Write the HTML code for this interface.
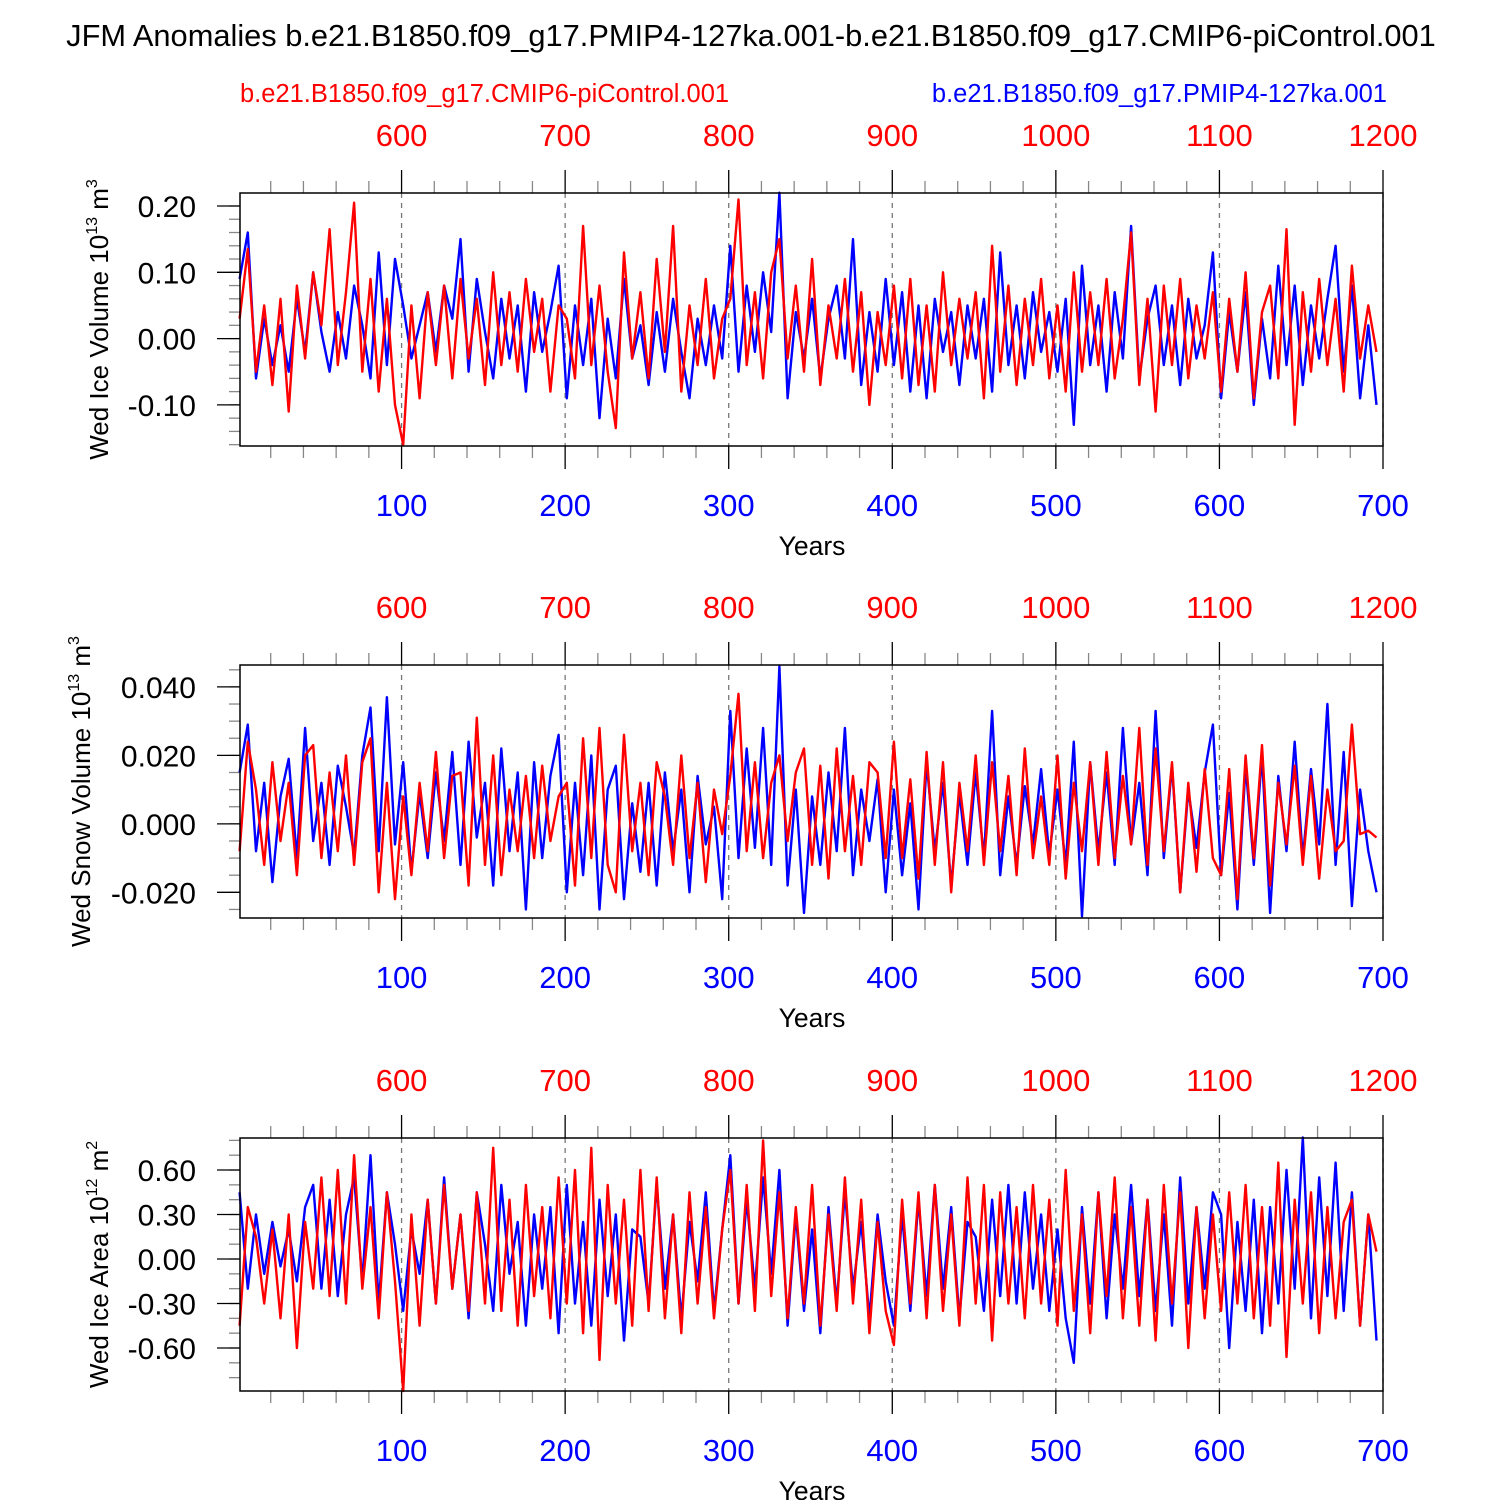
<!DOCTYPE html>
<html><head><meta charset="utf-8"><style>
html,body{margin:0;padding:0;background:#fff}
svg{display:block;font-family:"Liberation Sans",Arial,sans-serif}
</style></head><body>
<svg id="c" width="1500" height="1500" viewBox="0 0 1500 1500">
<text x="751" y="46" text-anchor="middle" font-size="30.8">JFM Anomalies b.e21.B1850.f09_g17.PMIP4-127ka.001-b.e21.B1850.f09_g17.CMIP6-piControl.001</text>
<text x="240" y="102" font-size="25.5" fill="#f00">b.e21.B1850.f09_g17.CMIP6-piControl.001</text>
<text x="1387" y="102" font-size="25.5" fill="#00f" text-anchor="end">b.e21.B1850.f09_g17.PMIP4-127ka.001</text>
</svg>
<script>
const blueIceVol=[.09,.16,-.06,.03,-.04,.02,-.05,.06,-.02,.10,.01,-.05,.04,-.03,.08,.02,-.06,.13,-.04,.12,.05,-.03,.02,.07,-.02,.08,.03,.15,-.05,.09,.01,-.06,.06,-.03,.05,-.08,.07,-.02,.04,.11,-.09,.05,-.04,.06,-.12,.03,-.06,.09,-.03,.02,-.07,.04,-.05,.06,-.02,-.09,.03,-.04,.05,-.03,.14,-.05,.08,-.02,.10,.01,.22,-.09,.04,-.03,.06,-.06,.03,.08,-.03,.15,-.07,.04,-.05,.09,-.04,.07,-.08,.05,-.09,.06,-.02,.04,-.07,.05,-.03,.06,-.08,.13,-.04,.05,-.06,.07,-.02,.04,-.05,.06,-.13,.11,-.04,.05,-.08,.07,-.03,.17,-.06,.03,.08,-.04,.05,-.07,.06,-.03,.02,.13,-.09,.04,-.05,.07,-.10,.03,-.06,.11,-.04,.08,-.07,.05,-.03,.06,.14,-.05,.08,-.09,.02,-.10];
const redIceVol=[.03,.135,-.05,.05,-.07,.06,-.11,.08,-.03,.10,.02,.165,-.04,.07,.205,-.05,.09,-.08,.06,-.10,-.16,.05,-.09,.07,-.04,.08,-.06,.09,-.03,.06,-.07,.10,-.04,.07,-.05,.09,-.02,.06,-.08,.05,.03,-.06,.17,-.04,.08,-.05,-.135,.13,-.03,.07,-.06,.12,-.02,.17,-.08,.05,-.04,.09,-.06,.03,.06,.21,-.04,.07,-.06,.10,.15,-.03,.08,-.05,.12,-.07,.05,-.03,.09,-.05,.07,-.10,.04,-.04,.08,-.06,.09,-.07,.05,-.08,.10,-.04,.06,-.03,.07,-.09,.14,-.05,.08,-.07,.06,-.04,.09,-.06,.05,-.08,.10,-.05,.07,-.04,.09,-.06,.03,.16,-.07,.06,-.11,.08,-.04,.09,-.06,.05,-.03,.07,-.08,.06,-.05,.10,-.09,.04,.08,-.06,.165,-.13,.07,-.05,.09,-.04,.06,-.08,.11,-.03,.05,-.02];
const blueSnow=[.015,.029,-.008,.012,-.017,.008,.019,-.01,.028,-.005,.012,-.012,.017,.005,-.009,.02,.034,-.008,.037,-.006,.018,-.014,.009,-.01,.015,-.005,.021,-.012,.024,-.004,.012,-.018,.022,-.008,.015,-.025,.018,-.01,.014,.026,-.02,.012,-.015,.02,-.025,.01,.017,-.022,.006,-.014,.012,-.018,.015,-.008,.01,-.02,.014,-.006,.005,-.022,.033,-.01,.022,-.007,.028,-.012,.046,-.018,.01,-.026,.008,-.012,.015,-.008,.028,-.015,.01,-.005,.013,-.02,.01,-.015,.006,-.025,.018,-.008,.012,-.018,.009,-.012,.015,-.01,.033,-.015,.008,-.012,.011,-.006,.016,-.009,.01,-.012,.024,-.027,.018,-.008,.015,-.012,.028,-.006,.012,-.015,.033,-.01,.017,-.02,.01,-.007,.015,.029,-.015,.009,-.025,.017,-.012,.02,-.026,.014,-.008,.024,-.01,.016,-.006,.035,-.012,.021,-.024,.01,-.008,-.02];
const redSnow=[-.008,.024,.01,-.012,.018,-.005,.012,-.015,.02,.023,-.01,.015,-.008,.02,-.012,.018,.025,-.02,.012,-.022,.008,-.015,.012,-.008,.021,-.01,.014,.015,-.018,.031,-.012,.02,-.015,.01,-.008,.014,-.01,.017,-.005,.008,.012,-.018,.025,-.01,.028,-.012,-.02,.026,-.008,.012,-.015,.018,.008,-.012,.02,-.01,.012,-.017,.01,-.003,.014,.038,-.008,.018,-.01,.012,.02,-.005,.015,.022,-.012,.017,-.016,.022,-.008,.014,-.012,.018,.015,-.01,.024,-.01,.013,-.016,.021,-.012,.018,-.02,.012,-.008,.02,-.012,.018,-.008,.014,-.015,.022,-.01,.008,-.012,.02,-.016,.012,-.008,.018,-.012,.021,-.01,.014,-.006,.028,-.012,.022,-.008,.018,-.02,.012,-.014,.016,-.01,-.015,.016,-.022,.02,-.01,.023,-.018,.012,-.006,.017,-.012,.014,-.016,.01,-.008,-.005,.029,-.003,-.002,-.004];
const blueArea=[.45,-.2,.3,-.1,.25,-.05,.2,-.15,.35,.5,-.2,.4,-.25,.3,.55,-.15,.7,-.3,.45,.1,-.35,.2,-.1,.4,-.3,.55,-.2,.3,-.4,.45,.1,-.35,.5,-.1,.25,-.45,.3,-.2,.35,-.5,.5,-.3,.25,-.45,.4,-.25,.3,-.55,.2,.15,-.3,.5,-.2,.3,-.4,.25,-.15,.45,-.35,.2,.7,-.3,.4,-.2,.55,-.1,.6,-.45,.3,-.35,.2,-.5,.35,-.3,.45,-.2,.25,-.4,.3,-.15,-.45,.3,-.35,.4,-.25,.5,-.2,.35,-.4,.25,.15,-.35,.4,-.25,.5,-.3,.45,-.2,.3,-.35,.2,-.4,-.7,.35,-.3,.45,-.4,.3,-.2,.5,-.25,.4,-.35,.3,-.45,.55,-.3,.35,-.2,.45,.3,-.6,.25,-.35,.4,-.5,.35,-.3,.6,-.2,.82,-.4,.55,-.25,.65,-.35,.45,-.45,.3,-.55];
const redArea=[-.45,.35,.15,-.3,.2,-.4,.3,-.6,.25,-.2,.55,-.25,.6,-.3,.7,-.2,.35,-.4,.45,-.15,-.89,.3,-.45,.4,-.3,.5,-.2,.3,-.35,.45,-.3,.75,-.35,.4,-.45,.5,-.25,.35,-.4,.55,-.3,.6,-.5,.75,-.68,.5,-.3,.4,-.45,.6,-.35,.55,-.4,.3,-.5,.45,-.3,.35,-.4,.2,.6,-.3,.5,-.35,.8,-.25,.45,-.4,.35,-.3,.5,-.45,.3,-.35,.55,-.3,.4,-.5,.25,-.35,-.58,.4,-.3,.45,-.4,.5,-.35,.3,-.45,.55,-.3,.5,-.55,.45,-.3,.35,-.4,.5,-.3,.4,-.45,.6,-.35,.3,-.5,.45,-.25,.55,-.4,.35,-.45,.4,-.55,.5,-.3,.45,-.6,.35,-.4,.3,-.35,.45,-.3,.5,-.4,.35,-.45,.65,-.66,.4,-.3,.45,-.5,.35,-.4,.25,.4,-.45,.3,.05];
const blueTicks=[100,200,300,400,500,600,700];
const redTicks=[600,700,800,900,1000,1100,1200];
const ticks1=["0.20","0.10","0.00","-0.10"], ticks2=["0.040","0.020","0.000","-0.020"], ticks3=["0.60","0.30","0.00","-0.30","-0.60"];
const NS="http://www.w3.org/2000/svg", svg=document.getElementById('c');
function el(t,a,p){const e=document.createElementNS(NS,t);for(const k in a)e.setAttribute(k,a[k]);(p||svg).appendChild(e);return e;}
const X0=240,X1=1383;
function xs(y){return 238+(y)*(1145/700);}
const panels=[
 {top:193,ymin:-0.162,ymax:0.2196,ticks:ticks1,minor:0.02,blue:blueIceVol,red:redIceVol,tx:108,title:['Wed Ice Volume 10','13',' m','3'],n:'ice-volume'},
 {top:665,ymin:-0.0275,ymax:0.0464,ticks:ticks2,minor:0.005,blue:blueSnow,red:redSnow,tx:90,title:['Wed Snow Volume 10','13',' m','3'],n:'snow-volume'},
 {top:1138,ymin:-0.89,ymax:0.816,ticks:ticks3,minor:0.1,blue:blueArea,red:redArea,tx:108,title:['Wed Ice Area 10','12',' m','2'],n:'ice-area'}];
panels.forEach(P=>{
 const H=253,B=P.top+H;
 const ys=v=>B-(v-P.ymin)/(P.ymax-P.ymin)*H;
 const g=el('g',{});
 
 
 blueTicks.forEach(t=>{const l=el('line',{x1:xs(t),x2:xs(t),y1:P.top,y2:B,stroke:'#777','stroke-width':1.3,'stroke-dasharray':'5,5'},g);});
 for(let yr=20;yr<=700;yr+=20){const x=xs(yr),big=yr%100==0,L=big?23:12,c=big?'#000':'#888';
  el('line',{x1:x,x2:x,y1:P.top,y2:P.top-L,stroke:c,'stroke-width':1.3},g);
  el('line',{x1:x,x2:x,y1:B,y2:B+L,stroke:c,'stroke-width':1.3},g);}
 const st=Math.ceil(P.ymin/P.minor-1e-6);
 for(let k=st;k*P.minor<=P.ymax+1e-9;k++){const v=k*P.minor,y=ys(v);el('line',{x1:X0,x2:X0-11,y1:y,y2:y,stroke:'#888','stroke-width':1.3},g);}
 P.ticks.forEach(t=>{const y=ys(parseFloat(t));el('line',{x1:X0,x2:X0-23,y1:y,y2:y,stroke:'#000','stroke-width':1.3},g);
  const tx=el('text',{x:196,y:y+11,'text-anchor':'end','font-size':30},g);tx.textContent=t;
  });
 [['blue','#00f'],['red','#f00']].forEach(([k,c])=>{
  const pts=P[k].map((v,i)=>xs(1+i*5).toFixed(1)+','+ys(v).toFixed(1)).join(' ');
  const pl=el('polyline',{points:pts,fill:'none',stroke:c,'stroke-width':2.4,'stroke-linejoin':'round'},g);
  });
 el('rect',{x:X0,y:P.top,width:X1-X0,height:H,fill:'none',stroke:'#000','stroke-width':1.5},g);
 redTicks.forEach((t,i)=>{const tx=el('text',{x:xs(blueTicks[i]),y:P.top-47,'text-anchor':'middle','font-size':31,fill:'#f00'},g);tx.textContent=t;
  });
 blueTicks.forEach(t=>{const tx=el('text',{x:xs(t),y:B+70,'text-anchor':'middle','font-size':31,fill:'#00f'},g);tx.textContent=t;
  });
 const xt=el('text',{x:812,y:B+109,'text-anchor':'middle','font-size':26.5},g);xt.textContent='Years';
 
 const yt=el('text',{transform:`translate(${P.tx},${P.top+H/2}) rotate(-90)`,'text-anchor':'middle','font-size':26},g);
 
 const s=P.title;
 const a=el('tspan',{},yt);a.textContent=s[0];
 const b=el('tspan',{'font-size':16,dy:-11},yt);b.textContent=s[1];
 const c=el('tspan',{dy:11},yt);c.textContent=s[2];
 const d=el('tspan',{'font-size':16,dy:-11},yt);d.textContent=s[3];
});
</script>
</body></html>
